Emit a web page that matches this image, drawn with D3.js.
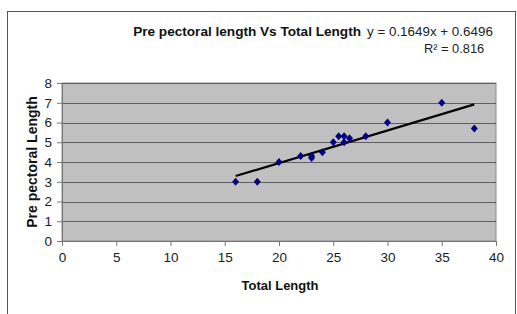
<!DOCTYPE html>
<html lang="en">
<head>
<meta charset="utf-8">
<title>Pre pectoral length Vs Total Length</title>
<style>
    body { margin: 0; background: #fff; }
    svg { display: block; font-family: "Liberation Sans", Arial, sans-serif; }
    .axis text { fill: #1a1a1a; }
    .axis path, .axis line { stroke: #777; }
</style>
</head>
<body>
<svg></svg>
<script src="https://cdn.jsdelivr.net/npm/d3@7"></script>
<script>
    // total length vs pre pectoral length
    var totalLength = [16, 18, 20, 22, 23, 23, 24, 25, 25.5, 26, 26, 26.5, 28, 30, 35, 38];
    var prePectoral = [3, 3, 4, 4.3, 4.3, 4.2, 4.5, 5, 5.3, 5.3, 5.0, 5.2, 5.3, 6, 7, 5.7];
    var xTicks = [0, 5, 10, 15, 20, 25, 30, 35, 40];
    var yTicks = [0, 1, 2, 3, 4, 5, 6, 7, 8];
    var slope = 0.1649, intercept = 0.6496;

    var W = 517, H = 314;
    var svg = d3.select("svg").attr("width", W).attr("height", H);

    // outer frame
    svg.append("rect").attr("x", 7.5).attr("y", 11.5).attr("width", 508).attr("height", 310)
        .attr("fill", "#fff").attr("stroke", "#555").attr("stroke-width", 1);

    var x = d3.scaleLinear().domain([0, 40]).range([62, 496]);
    var y = d3.scaleLinear().domain([0, 8]).range([241, 83]);

    // plot area
    svg.append("rect").attr("x", x(0)).attr("y", y(8))
        .attr("width", x(40) - x(0)).attr("height", y(0) - y(8))
        .attr("fill", "#c0c0c0").attr("stroke", "#8a8a8a");

    svg.append("g").selectAll("line").data(yTicks.slice(1)).join("line")
        .attr("x1", x(0)).attr("x2", x(40))
        .attr("y1", d => Math.round(y(d)) + 0.5).attr("y2", d => Math.round(y(d)) + 0.5)
        .attr("stroke", "#5e5e5e").attr("stroke-width", 1.2);

    svg.append("g").attr("class", "axis")
        .attr("transform", "translate(0," + y(0) + ")")
        .call(d3.axisBottom(x).tickValues(xTicks).tickSize(5).tickPadding(6))
        .call(g => g.selectAll("text").attr("font-size", 13.5));

    svg.append("g").attr("class", "axis")
        .attr("transform", "translate(" + x(0) + ",0)")
        .call(d3.axisLeft(y).tickValues(yTicks).tickSize(5).tickPadding(5))
        .call(g => g.selectAll("text").attr("font-size", 13.5));

    // trend line
    var ext = d3.extent(totalLength);
    svg.append("line")
        .attr("x1", x(ext[0])).attr("y1", y(slope * ext[0] + intercept))
        .attr("x2", x(ext[1])).attr("y2", y(slope * ext[1] + intercept))
        .attr("stroke", "#000").attr("stroke-width", 2.2);

    // diamonds
    var pts = totalLength.map((d, i) => [d, prePectoral[i]]);
    svg.append("g").selectAll("path").data(pts).join("path")
        .attr("transform", d => "translate(" + x(d[0]) + "," + y(d[1]) + ")")
        .attr("d", "M0,-4L3.5,0L0,4L-3.5,0Z")
        .attr("fill", "#000080");

    svg.append("text").attr("x", 361).attr("y", 36).attr("text-anchor", "end")
        .attr("font-size", 13.6).attr("font-weight", "bold").attr("fill", "#111")
        .text("Pre pectoral length Vs Total Length");
    svg.append("text").attr("x", 367).attr("y", 36)
        .attr("font-size", 13.4).attr("fill", "#222")
        .text("y = " + slope + "x + " + intercept);
    svg.append("text").attr("x", 424).attr("y", 53)
        .attr("font-size", 12.8).attr("fill", "#222")
        .text("R\u00b2 = 0.816");

    svg.append("text").attr("x", 280).attr("y", 290).attr("text-anchor", "middle")
        .attr("font-size", 13).attr("font-weight", "bold").attr("fill", "#111")
        .text("Total Length");
    svg.append("text").attr("transform", "translate(37,162) rotate(-90)")
        .attr("text-anchor", "middle")
        .attr("font-size", 14).attr("font-weight", "bold").attr("fill", "#111")
        .text("Pre pectoral Length");
</script>
</body>
</html>
